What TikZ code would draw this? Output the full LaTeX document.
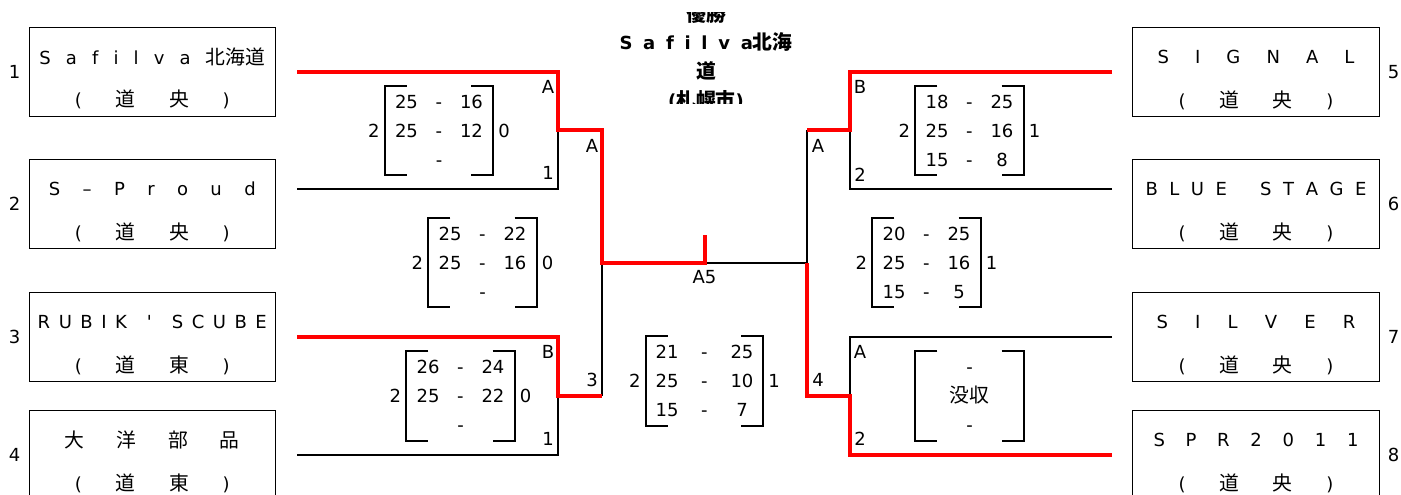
\documentclass[tikz,border=0pt]{standalone}
\usepackage{fontspec}
\setmainfont{DejaVu Sans}
\newfontfamily\cjk[Scale=1.1]{Noto Sans CJK JP}
\usetikzlibrary{positioning}

\newcommand\scoreline[3][39pt]{\makebox[26pt]{\vphantom{0}#2}\makebox[#1]{-}\makebox[26pt]{\vphantom{0}#3}}
\newcommand\homearea[2]{\makebox[155pt][s]{(\hfill{\cjk #1}\hfill{\cjk #2}\hfill)}}
\newcommand\scorebrackets[1]{%
\draw[brk] ([xshift=22pt]#1.north west) -- (#1.north west) -- (#1.south west) -- ([xshift=22pt]#1.south west);
\draw[brk] ([xshift=-22pt]#1.north east) -- (#1.north east) -- (#1.south east) -- ([xshift=-22pt]#1.south east);}

\begin{document}
\begin{tikzpicture}[x=1pt, y=-1pt,
teambox/.style={draw, line width=0.8pt, minimum width=246.5pt, minimum height=89pt, inner sep=0pt},
txt/.style={inner sep=0pt, font=\fontsize{18}{20}\selectfont},
title/.style={inner sep=0pt, font=\fontsize{18}{20}\selectfont\bfseries},
scores/.style={inner sep=0pt, minimum width=108pt, minimum height=89pt, align=center, font=\fontsize{18}{29}\selectfont},
brk/.style={line width=2pt},
lose/.style={line width=2pt},
win/.style={draw=red, line width=4pt},
]
\clip (0,0) rectangle (1401,495);

%Teams
\node[teambox] (t1) at (152.25,71.75) {};
\node[teambox] (t2) at (152.25,204) {};
\node[teambox] (t3) at (152.25,336.85) {};
\node[teambox] (t4) at (152.25,455.2) {};
\node[teambox] (t5) at (1256,72) {};
\node[teambox] (t6) at (1256,204) {};
\node[teambox] (t7) at (1256,336.85) {};
\node[teambox] (t8) at (1256,455.2) {};

\node[txt] (t1n) at ([yshift=-30pt]t1.north) {\makebox[226pt][s]{S\hfill a\hfill f\hfill i\hfill l\hfill v\hfill a\hfill{\cjk 北海道}}};
\node[txt] (t2n) at ([yshift=-30pt]t2.north) {\makebox[207pt][s]{S\hfill –\hfill P\hfill r\hfill o\hfill u\hfill d}};
\node[txt] (t3n) at ([yshift=-30pt]t3.north) {\makebox[229pt][s]{R\hfill U\hfill B\hfill I\hfill K\hfill\hspace{3pt}\hfill\textquotesingle\hfill\hspace{3pt}\hfill S\hfill C\hfill U\hfill B\hfill E}};
\node[txt] (t4n) at ([yshift=-30pt]t4.north) {\makebox[175pt][s]{{\cjk 大}\hfill{\cjk 洋}\hfill{\cjk 部}\hfill{\cjk 品}}};
\node[txt] (t5n) at ([yshift=-30pt]t5.north) {\makebox[197pt][s]{S\hfill I\hfill G\hfill N\hfill A\hfill L}};
\node[txt] (t6n) at ([yshift=-30pt]t6.north) {\makebox[221pt][s]{B\hfill L\hfill U\hfill E\hfill\hspace{10pt}\hfill S\hfill T\hfill A\hfill G\hfill E}};
\node[txt] (t7n) at ([yshift=-30pt]t7.north) {\makebox[199pt][s]{S\hfill I\hfill L\hfill V\hfill E\hfill R}};
\node[txt] (t8n) at ([yshift=-30pt]t8.north) {\makebox[205pt][s]{S\hfill P\hfill R\hfill 2\hfill 0\hfill 1\hfill 1}};

\node[txt] (t1r) at ([yshift=-73pt]t1.north) {\homearea{道}{央}};
\node[txt] (t2r) at ([yshift=-73pt]t2.north) {\homearea{道}{央}};
\node[txt] (t3r) at ([yshift=-73pt]t3.north) {\homearea{道}{東}};
\node[txt] (t4r) at ([yshift=-73pt]t4.north) {\homearea{道}{東}};
\node[txt] (t5r) at ([yshift=-73pt]t5.north) {\homearea{道}{央}};
\node[txt] (t6r) at ([yshift=-73pt]t6.north) {\homearea{道}{央}};
\node[txt] (t7r) at ([yshift=-73pt]t7.north) {\homearea{道}{央}};
\node[txt] (t8r) at ([yshift=-73pt]t8.north) {\homearea{道}{央}};

\node[txt, left=8pt of t1] (n1) {1};
\node[txt, left=8pt of t2] (n2) {2};
\node[txt, left=8pt of t3] (n3) {3};
\node[txt, left=8pt of t4] (n4) {4};
\node[txt, right=8pt of t5] (n5) {5};
\node[txt, right=8pt of t6] (n6) {6};
\node[txt, right=8pt of t7] (n7) {7};
\node[txt, right=8pt of t8] (n8) {8};

%Title
\begin{scope}
\clip (600,13) rectangle (820,103);
\node[title] (champ1) at (706,14) {\cjk 優勝};
\node[title] (champ2) at (706,42) {\makebox[173pt][s]{S\hfill a\hfill f\hfill i\hfill l\hfill v\hfill a{\cjk 北海}}};
\node[title] (champ3) at (706,71) {\cjk 道};
\node[title] (champ4) at (706,100) {({\cjk 札幌市})};
\end{scope}

%Joints
\coordinate (e1) at (297,72);
\coordinate (e2) at (297,189);
\coordinate (e3) at (297,337);
\coordinate (e4) at (297,455);
\coordinate (e5) at (1112,72);
\coordinate (e6) at (1112,189);
\coordinate (e7) at (1112,337);
\coordinate (e8) at (1112,455);
\coordinate (q1) at (558,130);
\coordinate (q2) at (558,396);
\coordinate (q3) at (850,130);
\coordinate (q4) at (850,396);
\coordinate (sL) at (602,263);
\coordinate (sR) at (807,263);
\coordinate (f) at (704.5,263);
\coordinate (champ) at (704.5,235);

%Lines
\draw[lose] (e2) -| (q1);
\draw[lose] (e4) -| (q2);
\draw[lose] (q2 -| sL) -- (sL);
\draw[lose] (e6) -| (q3);
\draw[lose] (e7) -| (q4);
\draw[lose] (q3 -| sR) -- (sR);
\draw[lose] (f) -- (sR);
\draw[win] (e1) -| (q1) -- (q1 -| sL) -- (sL) -- (f) -- (champ);
\draw[win] (e3) -| (q2) -- (q2 -| sL);
\draw[win] (e5) -| (q3) -- (q3 -| sR);
\draw[win] (e8) -| (q4) -- (q4 -| sR) -- (sR);

%Labels
\node[txt] (l1) at (548,87) {A};
\node[txt] (l2) at (548,173) {1};
\node[txt] (l3) at (592,146) {A};
\node[txt] (l4) at (548,352) {B};
\node[txt] (l5) at (548,439) {1};
\node[txt] (l6) at (592,380) {3};
\node[txt] (l7) at (860,87) {B};
\node[txt] (l8) at (860,175) {2};
\node[txt] (l9) at (818,146) {A};
\node[txt] (l10) at (860,352) {A};
\node[txt] (l11) at (860,439) {2};
\node[txt] (l12) at (818,380) {4};
\node[txt, below=7pt of f] (a5) {A5};

%Scores
\node[scores] (s1) at (439,130.5) {\scoreline{25}{16}\\\scoreline{25}{12}\\\scoreline{}{}};
\node[scores] (s2) at (482.5,262.5) {\scoreline{25}{22}\\\scoreline{25}{16}\\\scoreline{}{}};
\node[scores] (s3) at (460.5,396) {\scoreline{26}{24}\\\scoreline{25}{22}\\\scoreline{}{}};
\node[scores, minimum width=117pt] (sf) at (704.5,381) {\scoreline[49pt]{21}{25}\\\scoreline[49pt]{25}{10}\\\scoreline[49pt]{15}{7}};
\node[scores] (s5) at (969.5,130.5) {\scoreline{18}{25}\\\scoreline{25}{16}\\\scoreline{15}{8}};
\node[scores] (s6) at (926.5,262.5) {\scoreline{20}{25}\\\scoreline{25}{16}\\\scoreline{15}{5}};
\node[scores] (s7) at (969.5,396) {\scoreline{}{}\\{\cjk 没収}\\\scoreline{}{}};
\scorebrackets{s1}
\scorebrackets{s2}
\scorebrackets{s3}
\scorebrackets{sf}
\scorebrackets{s5}
\scorebrackets{s6}
\scorebrackets{s7}

\node[txt, left=5pt of s1] (s1a) {2};
\node[txt, right=5pt of s1] (s1b) {0};
\node[txt, left=5pt of s2] (s2a) {2};
\node[txt, right=5pt of s2] (s2b) {0};
\node[txt, left=5pt of s3] (s3a) {2};
\node[txt, right=5pt of s3] (s3b) {0};
\node[txt, left=5pt of sf] (sfa) {2};
\node[txt, right=5pt of sf] (sfb) {1};
\node[txt, left=5pt of s5] (s5a) {2};
\node[txt, right=5pt of s5] (s5b) {1};
\node[txt, left=5pt of s6] (s6a) {2};
\node[txt, right=5pt of s6] (s6b) {1};

\end{tikzpicture}
\end{document}
